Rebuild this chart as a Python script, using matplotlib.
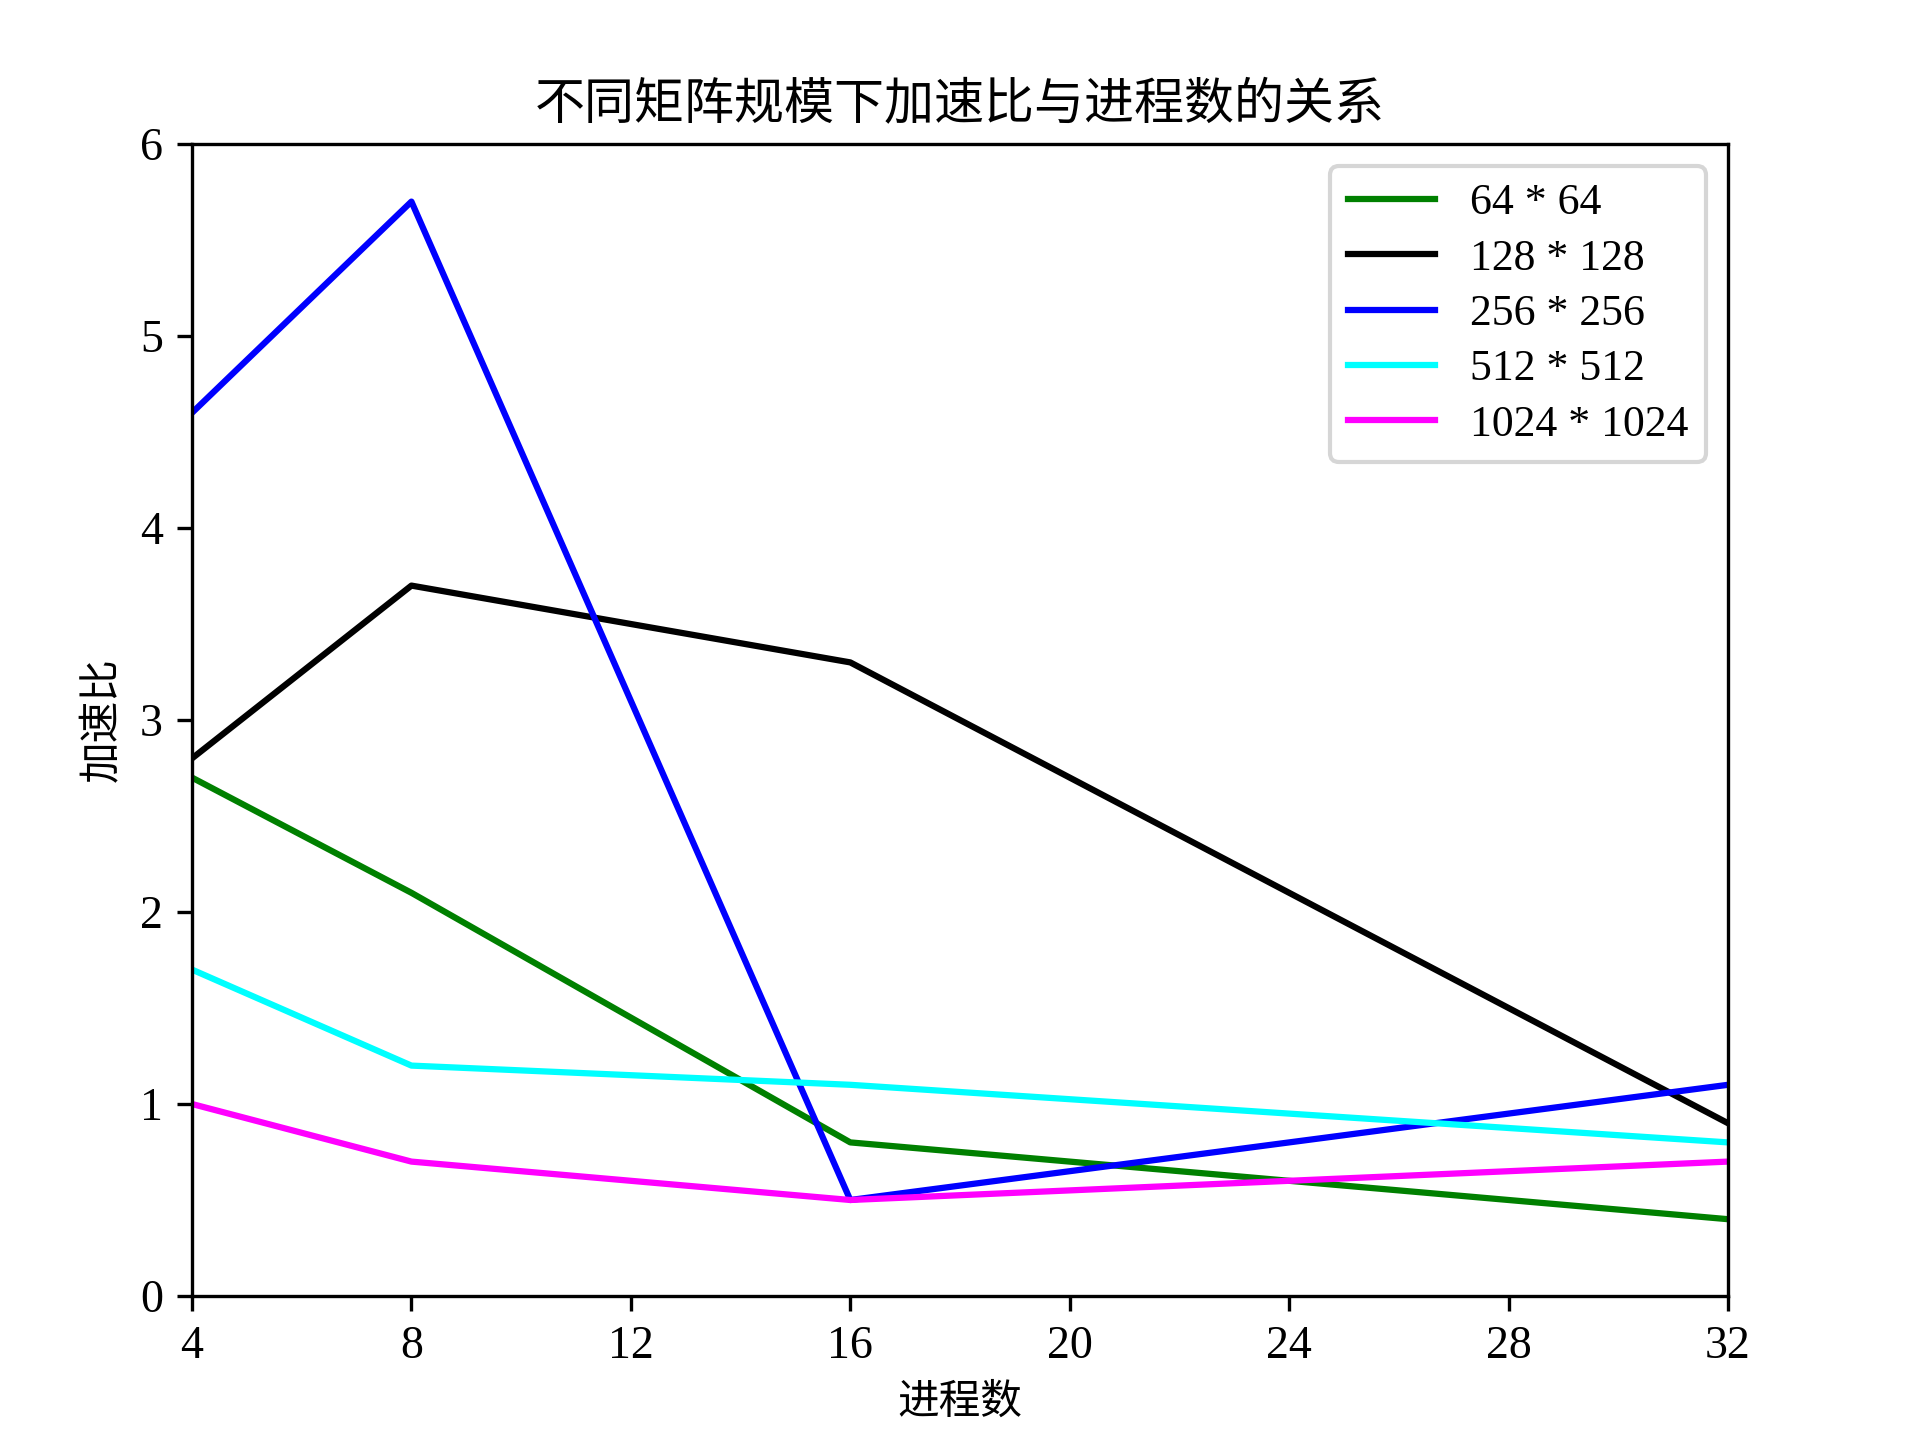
import matplotlib
matplotlib.use('Agg')
import matplotlib.pyplot as plt

plt.rcParams['font.family'] = ['Liberation Serif', 'Noto Sans CJK SC']
plt.rcParams['axes.unicode_minus'] = False

procs = [4, 8, 16, 32]
labels = ['64 * 64', '128 * 128', '256 * 256', '512 * 512', '1024 * 1024']
colors = ['green', 'black', 'blue', 'cyan', 'magenta']
speedup_64 = [2.7, 2.1, 0.8, 0.4]
speedup_128 = [2.8, 3.7, 3.3, 0.9]
speedup_256 = [4.6, 5.7, 0.5, 1.1]
speedup_512 = [1.7, 1.2, 1.1, 0.8]
speedup_1024 = [1.0, 0.7, 0.5, 0.7]
series = [speedup_64, speedup_128, speedup_256, speedup_512, speedup_1024]

fig, ax = plt.subplots(figsize=(6.4, 4.8), dpi=300)
fig.subplots_adjust(left=0.1, right=0.9, bottom=0.1, top=0.9)
for vals, lab, col in zip(series, labels, colors):
    ax.plot(procs, vals, color=col, label=lab)

ax.set_xlim(4, 32)
ax.set_ylim(0, 6)
ax.set_xticks(range(4, 33, 4))
ax.tick_params(labelsize=11)
ax.set_title('不同矩阵规模下加速比与进程数的关系')
ax.set_xlabel('进程数')
ax.set_ylabel('加速比')
ax.legend(loc='upper right', fontsize=10.5, labelspacing=0.35)

fig.savefig('out.png', dpi=300)
